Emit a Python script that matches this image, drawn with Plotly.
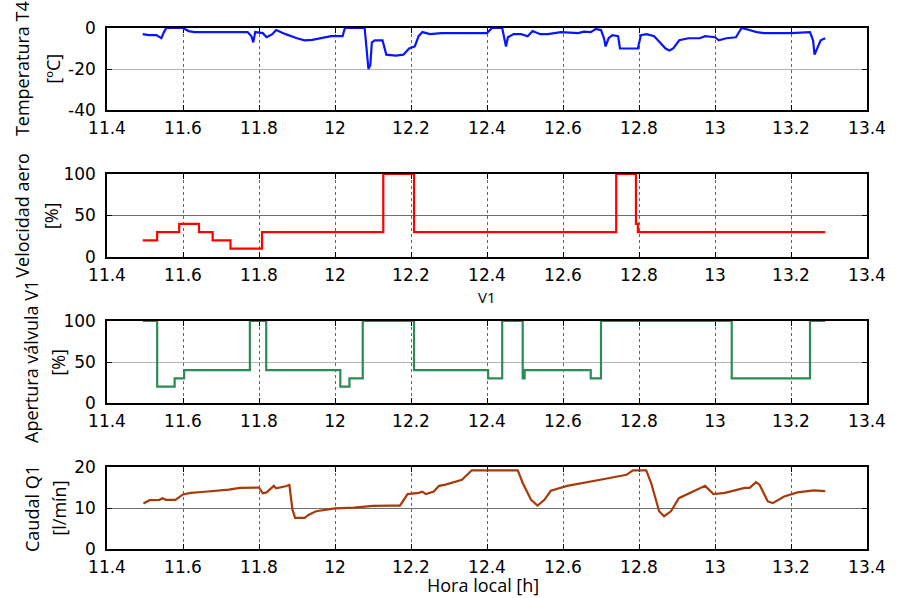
import plotly.graph_objects as go

# ---------------- data ----------------
t4_x = [11.494, 11.51, 11.53, 11.543, 11.55, 11.556, 11.60, 11.615, 11.63, 11.68, 11.70, 11.72, 11.77,
        11.78, 11.785, 11.79, 11.81, 11.82, 11.835, 11.845, 11.87, 11.90, 11.92, 11.94, 11.97, 11.99,
        12.02, 12.026, 12.078, 12.082, 12.088, 12.093, 12.097, 12.105, 12.125, 12.135, 12.16, 12.18,
        12.195, 12.21, 12.22, 12.23, 12.25, 12.28, 12.40, 12.413, 12.44, 12.45, 12.455, 12.47, 12.49,
        12.507, 12.52, 12.54, 12.56, 12.595, 12.64, 12.655, 12.673, 12.686, 12.70, 12.708, 12.712,
        12.72, 12.73, 12.745, 12.75, 12.797, 12.805, 12.82, 12.84, 12.87, 12.88, 12.89, 12.906, 12.93,
        12.96, 12.974, 13.00, 13.01, 13.03, 13.055, 13.07, 13.09, 13.11, 13.13, 13.20, 13.25, 13.258,
        13.262, 13.268, 13.278, 13.29]
t4_y = [-3, -3.5, -3.5, -5, -2, 0, 0, -1.5, -2, -2, -1.8, -2, -2,
        -4, -7, -2, -2.5, -4.5, -3, -1, -3, -5, -6, -5.8, -4.5, -4,
        -4, 0, 0, -7, -20, -18, -7, -6, -6, -13, -13.5, -13,
        -10, -9, -4, -2, -3, -2.5, -2.5, 0, 0, -9, -4.5, -3, -3,
        -4, -1.5, -3, -3, -2, -2.5, -1.8, -2, -0.5, -1, -5, -9,
        -5, -3.5, -4, -10, -10, -3.5, -3, -4, -10, -11, -10, -6, -5,
        -5, -4, -4.5, -6, -5, -4.5, 0, -1, -2, -2.5, -2.5, -2, -6,
        -13, -10, -6, -5]

vel_x = [11.494, 11.532, 11.59, 11.642, 11.678, 11.725, 11.808, 12.127, 12.208, 12.74, 12.792, 12.797, 13.29]
vel_y = [20, 30, 40, 30, 20, 10, 30, 100, 30, 100, 40, 30, 30]

v1_x = [11.494, 11.532, 11.578, 11.603, 11.776, 11.819, 12.014, 12.038, 12.073, 12.208, 12.403, 12.44,
        12.494, 12.499, 12.673, 12.70, 13.044, 13.25, 13.29]
v1_y = [100, 20, 30, 40, 100, 40, 20, 30, 100, 40, 30, 100, 30, 40, 30, 100, 30, 100, 100]

q1_x = [11.496, 11.512, 11.538, 11.546, 11.555, 11.58, 11.60, 11.62, 11.65, 11.70, 11.72, 11.75, 11.80,
        11.81, 11.82, 11.839, 11.845, 11.87, 11.88, 11.888, 11.895, 11.92, 11.93, 11.95, 11.97, 12.00,
        12.05, 12.10, 12.15, 12.171, 12.191, 12.22, 12.23, 12.239, 12.26, 12.274, 12.291, 12.317,
        12.334, 12.36, 12.481, 12.494, 12.516, 12.533, 12.551, 12.568, 12.611, 12.698, 12.767, 12.784,
        12.819, 12.832, 12.853, 12.866, 12.884, 12.905, 12.957, 12.974, 12.996, 13.026, 13.078, 13.091,
        13.108, 13.117, 13.139, 13.152, 13.182, 13.217, 13.26, 13.29]
q1_y = [11.1, 11.9, 12.0, 12.4, 12.0, 12.0, 13.3, 13.7, 13.9, 14.2, 14.5, 14.9, 15.0,
        13.6, 13.8, 15.4, 14.8, 15.3, 15.6, 9.6, 7.6, 7.6, 8.3, 9.2, 9.5, 9.9,
        10.1, 10.5, 10.6, 10.6, 13.4, 13.7, 14.0, 13.4, 14.0, 15.4, 15.7, 16.5,
        16.9, 19.2, 19.2, 16.1, 12.0, 10.6, 12.0, 14.2, 15.4, 16.9, 18.1, 19.2,
        19.2, 16.1, 9.2, 8.0, 9.2, 12.4, 14.6, 15.4, 13.4, 13.7, 14.9, 14.9,
        16.3, 15.7, 11.6, 11.2, 12.8, 13.8, 14.3, 14.1]

x_ticks = [11.4, 11.6, 11.8, 12, 12.2, 12.4, 12.6, 12.8, 13, 13.2, 13.4]
x_ticktext = ["11.4", "11.6", "11.8", "12", "12.2", "12.4", "12.6", "12.8", "13", "13.2", "13.4"]
t4_ticks = [-40, -20, 0]
t4_ticktext = ["-40", "-20", "0"]
pct_ticks = [0, 50, 100]
pct_ticktext = ["0", "50", "100"]
q1_ticks = [0, 10, 20]
q1_ticktext = ["0", "10", "20"]

panels = [
    dict(x=t4_x, y=t4_y, color="#0a14ff", shape="linear", yrange=[-40, 0], yticks=t4_ticks, ytext=t4_ticktext,
         label1="Temperatura T4", label2="[ºC]", hgrid="#b4b4b4"),
    dict(x=vel_x, y=vel_y, color="#ff0000", shape="hv", yrange=[0, 100], yticks=pct_ticks, ytext=pct_ticktext,
         label1="Velocidad aero", label2="[%]", hgrid="#6e6e6e"),
    dict(x=v1_x, y=v1_y, color="#2e8b57", shape="hv", yrange=[0, 100], yticks=pct_ticks, ytext=pct_ticktext,
         label1="Apertura válvula V1", label2="[%]", hgrid="#b4b4b4"),
    dict(x=q1_x, y=q1_y, color="#a83a0a", shape="linear", yrange=[0, 20], yticks=q1_ticks, ytext=q1_ticktext,
         label1="Caudal Q1", label2="[l/mín]", hgrid="#6e6e6e"),
]

# ---------------- layout geometry (pixels) ----------------
W, H = 898, 598
ML, MR, MT, MB = 107, 21, 28, 49
IH = H - MT - MB
IW = W - ML - MR
pix_panels = [(28, 110), (174, 257), (321, 403), (467, 549)]
lab_x = [(21, 52), (20, 50), (30, 57), (31, 58)]

def px2x(px):
    return (px - ML) / IW

def py2y(py):
    return (H - MB - py) / IH

fig = go.Figure()
tickfont = dict(family="DejaVu Sans", size=17, color="black")
labfont = dict(family="Open Sans", size=18, color="black")

annotations = []
for i, p in enumerate(panels):
    n = "" if i == 0 else str(i + 1)
    fig.add_trace(go.Scatter(x=p["x"], y=p["y"], mode="lines", line=dict(color=p["color"], width=2.2, shape=p["shape"]),
                             xaxis="x" + n, yaxis="y" + n, showlegend=False))
    top, bot = pix_panels[i]
    fig.layout["xaxis" + n] = dict(domain=[0, 1], anchor="y" + n, range=[11.4, 13.4],
                                   tickvals=x_ticks, ticktext=x_ticktext, tickfont=tickfont,
                                   showgrid=True, gridcolor="#666666", griddash="dot", gridwidth=1,
                                   showline=True, linecolor="black", linewidth=1.5, mirror="ticks",
                                   ticks="inside", ticklen=5, tickcolor="black", zeroline=False,
                                   ticklabelstandoff=2, layer="below traces")
    fig.layout["yaxis" + n] = dict(domain=[py2y(bot), py2y(top)], anchor="x" + n, range=p["yrange"],
                                   tickvals=p["yticks"], ticktext=p["ytext"], tickfont=tickfont,
                                   showgrid=True, gridcolor=p["hgrid"], gridwidth=1,
                                   showline=True, linecolor="black", linewidth=1.5, mirror="ticks",
                                   ticks="inside", ticklen=5, tickcolor="black", zeroline=False,
                                   ticklabelstandoff=6, layer="below traces")
    yc = py2y((top + bot) / 2)
    annotations.append(dict(text=p["label1"], x=px2x(lab_x[i][0]), y=yc, xref="paper", yref="paper",
                            textangle=-90, showarrow=False, font=labfont, xanchor="center", yanchor="middle"))
    annotations.append(dict(text=p["label2"], x=px2x(lab_x[i][1]), y=yc, xref="paper", yref="paper",
                            textangle=-90, showarrow=False, font=labfont, xanchor="center", yanchor="middle"))

annotations.append(dict(text="V1", x=px2x(492), y=py2y(297), xref="paper", yref="paper", showarrow=False,
                        font=dict(family="Open Sans", size=15, color="black"), xanchor="center", yanchor="middle"))
annotations.append(dict(text="Hora local [h]", x=px2x(488), y=py2y(585), xref="paper", yref="paper", showarrow=False,
                        font=dict(family="Open Sans", size=18, color="black"), xanchor="center", yanchor="middle"))

fig.update_layout(width=W, height=H, margin=dict(l=ML, r=MR, t=MT, b=MB),
                  paper_bgcolor="white", plot_bgcolor="white", annotations=annotations)

fig.write_html("out.html", config={"displayModeBar": False},
               post_script="document.body.style.margin='0';document.body.style.overflow='hidden';")
